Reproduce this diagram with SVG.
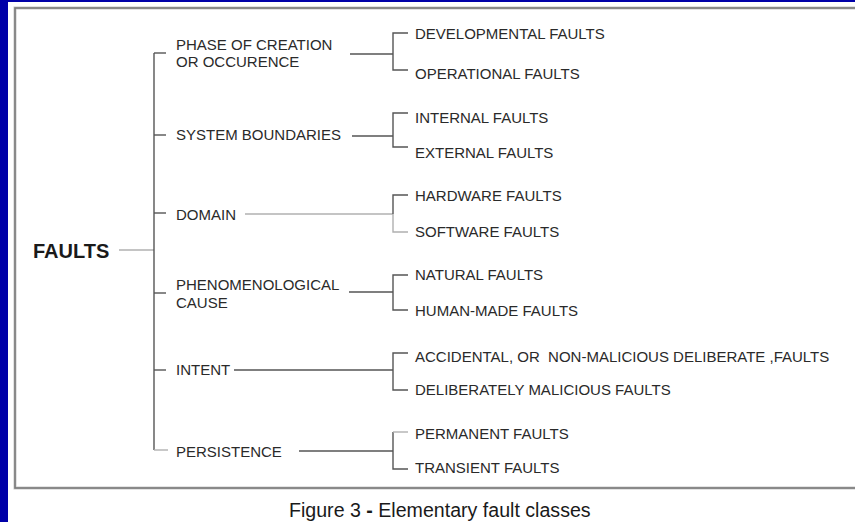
<svg xmlns="http://www.w3.org/2000/svg" width="855" height="522" viewBox="0 0 855 522">
<style>
text{font-family:"Liberation Sans",Arial,sans-serif;fill:#2a2a2a}
.l{font-size:15px}
.root{font-size:20px;font-weight:bold;fill:#1a1a1a}
.cap{font-size:19.6px;fill:#1a1a1a}
.c line,.c path{stroke:#555;stroke-width:1.4;fill:none}
.c .lt{stroke:#b0b0b0}
</style>
<rect x="0" y="0" width="855" height="522" fill="#0000a8"/>
<rect x="8" y="2" width="847" height="520" fill="#ffffff"/>
<rect x="15" y="8" width="850" height="480" fill="none" stroke="#c8c8c8" stroke-width="3"/>
<rect x="15" y="8" width="850" height="480" fill="none" stroke="#7a7a7a" stroke-width="1.6"/>

<g class="c" id="connectors">
  <line class="lt" x1="119" y1="250" x2="154" y2="250"/>
  <line x1="154" y1="53" x2="154" y2="450"/>
  <line x1="154" y1="53" x2="166" y2="53"/>
  <line x1="154" y1="135" x2="166" y2="135"/>
  <line x1="154" y1="213" x2="166" y2="213"/>
  <line x1="154" y1="293" x2="166" y2="293"/>
  <line x1="154" y1="370" x2="166" y2="370"/>
  <line class="lt" x1="154" y1="450" x2="168" y2="450"/>

  <line x1="350" y1="54" x2="393" y2="54"/>
  <path d="M408 33H393V70H408"/>

  <line x1="352" y1="136" x2="393" y2="136"/>
  <path d="M408 113H393V147H408"/>

  <line class="lt" x1="245" y1="214" x2="393" y2="214"/>
  <path d="M408 195H393V214"/>
  <path class="lt" d="M393 214V232H408"/>

  <line x1="349" y1="292" x2="393" y2="292"/>
  <path d="M408 275H393V310H408"/>

  <line x1="234" y1="370" x2="393" y2="370"/>
  <path d="M408 353H393V390H408"/>

  <line x1="299" y1="451" x2="393" y2="451"/>
  <path d="M393 451V432"/>
  <line class="lt" x1="393" y1="432" x2="408" y2="432"/>
  <path d="M393 451V469H408"/>
</g>

<g id="faults"><text class="root" x="33" y="258">FAULTS</text></g>

<g id="phase"><text class="l" x="176" y="50">PHASE OF CREATION</text><text class="l" x="176" y="67">OR OCCURENCE</text></g>
<g id="developmental"><text class="l" x="415" y="39">DEVELOPMENTAL FAULTS</text></g>
<g id="operational"><text class="l" x="415" y="79">OPERATIONAL FAULTS</text></g>

<g id="system"><text class="l" x="176" y="140">SYSTEM BOUNDARIES</text></g>
<g id="internal"><text class="l" x="415" y="123">INTERNAL FAULTS</text></g>
<g id="external"><text class="l" x="415" y="158">EXTERNAL FAULTS</text></g>

<g id="domain"><text class="l" x="176" y="220">DOMAIN</text></g>
<g id="hardware"><text class="l" x="415" y="201">HARDWARE FAULTS</text></g>
<g id="software"><text class="l" x="415" y="237">SOFTWARE FAULTS</text></g>

<g id="phenom"><text class="l" x="176" y="290">PHENOMENOLOGICAL</text><text class="l" x="176" y="307.5">CAUSE</text></g>
<g id="natural"><text class="l" x="415" y="280">NATURAL FAULTS</text></g>
<g id="human"><text class="l" x="415" y="316">HUMAN-MADE FAULTS</text></g>

<g id="intent"><text class="l" x="176" y="375">INTENT</text></g>
<g id="accidental"><text class="l" x="415" y="362" xml:space="preserve">ACCIDENTAL, OR  NON-MALICIOUS DELIBERATE ,FAULTS</text></g>
<g id="deliberate"><text class="l" x="415" y="395">DELIBERATELY MALICIOUS FAULTS</text></g>

<g id="persistence"><text class="l" x="176" y="456.5">PERSISTENCE</text></g>
<g id="permanent"><text class="l" x="415" y="439">PERMANENT FAULTS</text></g>
<g id="transient"><text class="l" x="415" y="473">TRANSIENT FAULTS</text></g>

<g id="caption"><text class="cap" x="289" y="517">Figure 3 <tspan font-weight="bold">-</tspan> Elementary fault classes</text></g>
</svg>
